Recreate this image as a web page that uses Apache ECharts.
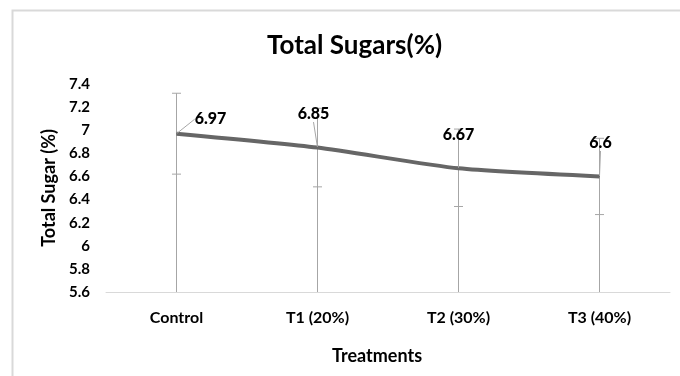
<!DOCTYPE html>
<html>
<head>
<meta charset="utf-8">
<script src="https://cdn.jsdelivr.net/npm/echarts@6/dist/echarts.min.js"></script>
<style>
  html, body { margin: 0; padding: 0; background: #fff; }
  #chart { width: 680px; height: 376px; }
</style>
</head>
<body>
<div id="chart"></div>
<script>
// 数据
var treatments = ['Control', 'T1 (20%)', 'T2 (30%)', 'T3 (40%)'];
var sugarValues = [6.97, 6.85, 6.67, 6.6];
var errorUpper = [7.32, 7.19, 7.01, 6.93];
var errorLower = [6.62, 6.51, 6.34, 6.27];
var yTicks = { min: 5.6, max: 7.4, step: 0.2 };

var FONT = 'Lato';

var chart = echarts.init(document.getElementById('chart'));

// 误差线数据
var errData = [];
for (var i = 0; i < treatments.length; i++) {
    errData.push([i, errorUpper[i], errorLower[i]]);
}

// 标签偏移
var labelShift = [[34, -2], [-4, -21], [0, -21], [1, -21]];

var option = {
    animation: false,
    textStyle: { fontFamily: FONT },
    graphic: [{
        type: 'rect',
        left: 10, top: 8,
        shape: { width: 700, height: 400 },
        style: { fill: 'none', stroke: '#d9d9d9', lineWidth: 2 },
        silent: true
    }],
    title: {
        text: 'Total Sugars(%)',
        left: 262,
        top: 28,
        textStyle: { fontFamily: FONT, fontSize: 26, fontWeight: 'bold', color: '#000' }
    },
    grid: { left: 106, right: 10, top: 84, bottom: 84 },
    xAxis: {
        type: 'category',
        data: treatments,
        name: 'Treatments',
        nameLocation: 'middle',
        nameGap: 55,
        nameTextStyle: { fontFamily: FONT, fontSize: 18, fontWeight: 'bold', color: '#000', padding: [0, 22, 0, 0] },
        axisLine: { lineStyle: { color: '#d9d9d9', width: 1 } },
        axisTick: { show: false },
        axisLabel: { margin: 18, fontFamily: FONT, fontSize: 16, fontWeight: 'bold', color: '#000' }
    },
    yAxis: {
        type: 'value',
        min: yTicks.min,
        max: yTicks.max,
        interval: yTicks.step,
        name: 'Total Sugar (%)',
        nameLocation: 'middle',
        nameGap: 46,
        nameTextStyle: { fontFamily: FONT, fontSize: 18, fontWeight: 'bold', color: '#000' },
        axisLine: { show: false },
        axisTick: { show: false },
        splitLine: { show: false },
        axisLabel: {
            margin: 16, fontFamily: FONT, fontSize: 15, fontWeight: 'bold', color: '#000',
            formatter: function (v) { return String(Math.round(v * 10) / 10); }
        }
    },
    series: [{
        type: 'custom',
        data: errData,
        z: 1,
        renderItem: function (params, api) {
            var x = api.value(0);
            var top = api.coord([x, api.value(1)]);
            var low = api.coord([x, api.value(2)]);
            var base = api.coord([x, yTicks.min]);
            var half = 4.5;
            var st = { stroke: '#a6a6a6', lineWidth: 1 };
            return {
                type: 'group',
                children: [
                    { type: 'line', shape: { x1: top[0], y1: top[1], x2: base[0], y2: base[1] }, style: st },
                    { type: 'line', shape: { x1: top[0] - half, y1: top[1], x2: top[0] + half, y2: top[1] }, style: st },
                    { type: 'line', shape: { x1: low[0] - half, y1: low[1], x2: low[0] + half, y2: low[1] }, style: st }
                ]
            };
        }
    }, {
        type: 'line',
        data: sugarValues,
        z: 3,
        smooth: 0.2,
        showSymbol: true,
        symbol: 'circle',
        symbolSize: 1,
        itemStyle: { color: '#666666' },
        lineStyle: { color: '#666666', width: 4 },
        label: {
            show: true,
            position: 'top',
            distance: 4,
            fontFamily: FONT, fontSize: 16, fontWeight: 900, color: '#000'
        },
        labelLine: { show: true, lineStyle: { color: '#a6a6a6', width: 1 } },
        labelLayout: function (p) {
            var s = labelShift[p.dataIndex];
            return { dx: s[0], dy: s[1] };
        }
    }]
};

chart.setOption(option);
</script>
</body>
</html>
